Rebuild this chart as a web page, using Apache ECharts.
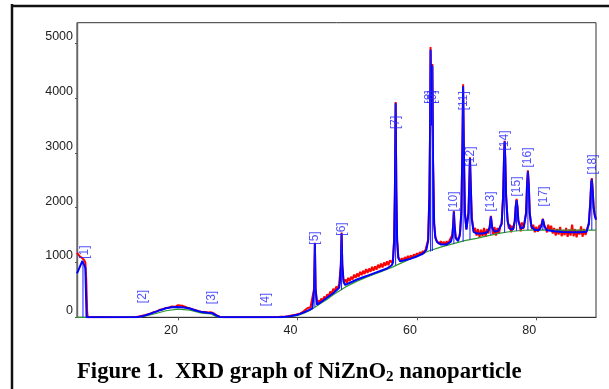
<!DOCTYPE html>
<html><head><meta charset="utf-8">
<script src="https://cdn.jsdelivr.net/npm/echarts@6/dist/echarts.min.js"></script>
<style>html,body{margin:0;padding:0;background:#fff}#c{width:609px;height:389px}</style>
</head><body><div id="c"></div>
<script>
// ---- data (2theta in degrees, intensity in counts) ----
const xTicks = [20, 40, 60, 80];
const yTicks = [0, 1000, 2000, 3000, 4000, 5000];

// measured pattern (red)
const measured = [
[3.1,1180],[3.3,1150],[3.5,1120],[3.7,1100],[3.9,1085],[4.1,1065],[4.3,1045],[4.5,1000],[4.65,700],[4.8,100],[4.9,0],
[6,4],[9,3],[12.5,5],[13,6],[13.5,15],[14,28],[14.5,38],[15,58],[15.5,72],[16,98],[16.5,108],[17,138],[17.5,148],
[18,172],[18.5,178],[19,198],[19.3,212],[19.6,192],[20,222],[20.3,196],[20.7,210],[21,188],[21.5,178],[22,162],
[22.5,142],[23,128],[23.5,112],[24,98],[24.5,96],[25,88],[25.5,92],[26,70],[26.5,35],[27,10],[27.5,3],[30,2],[35,3],[37,8],
[38,15],[38.5,20],[39,35],[39.5,40],[40,55],[40.5,70],[41,105],[41.3,95],[41.6,160],[41.9,140],[42.2,185],[42.5,170],
[42.8,520],[42.93,1360],[43.05,520],[43.3,260],[43.5,310],[43.75,270],[44,340],[44.25,300],[44.5,380],[44.75,340],
[45,420],[45.25,380],[45.5,470],[45.75,430],[46,520],[46.25,470],[46.5,560],[46.75,520],[47,610],[47.15,640],
[47.28,960],[47.4,1545],[47.52,960],[47.7,690],[47.9,640],[48.1,690],[48.3,630],[48.5,720],[48.75,660],[49,740],
[49.25,690],[49.5,780],[49.75,720],[50,800],[50.25,740],[50.5,830],[50.75,770],[51,850],[51.25,790],[51.5,880],
[51.75,810],[52,890],[52.25,830],[52.5,920],[52.75,850],[53,930],[53.25,870],[53.5,960],[53.75,900],[54,980],
[54.25,910],[54.5,1000],[54.75,940],[55,1020],[55.25,950],[55.5,1040],[55.8,1000],[56,1050],[56.2,1420],[56.33,2320],
[56.45,3930],[56.57,2320],[56.7,1420],[56.9,1100],[57.1,1060],[57.3,1020],[57.5,1080],[57.75,1030],[58,1100],
[58.25,1050],[58.5,1120],[58.75,1060],[59,1130],[59.25,1080],[59.5,1150],[59.75,1100],[60,1170],[60.25,1120],
[60.5,1190],[60.75,1150],[61,1210],[61.25,1170],[61.5,1250],[61.7,1280],[61.9,1420],[62.1,2220],[62.22,3420],
[62.3,4930],[62.42,3620],[62.5,3520],[62.6,4620],[62.72,2820],[62.9,1720],[63.1,1470],[63.3,1400],[63.5,1390],
[63.75,1340],[64,1390],[64.25,1330],[64.5,1380],[64.75,1320],[65,1390],[65.25,1340],[65.5,1410],[65.75,1390],
[65.95,1500],[66.1,1710],[66.2,1940],[66.3,1710],[66.5,1470],[66.7,1420],[66.9,1400],[67.1,1460],[67.25,1560],
[67.45,1920],[67.62,3020],[67.75,4250],[67.88,3020],[68.05,1920],[68.3,1610],[68.45,1580],[68.65,1920],[68.8,2520],
[68.9,2920],[69,2520],[69.2,1820],[69.5,1580],[69.75,1630],[70,1490],[70.25,1610],[70.5,1460],[70.75,1600],
[71,1480],[71.25,1630],[71.5,1470],[71.75,1610],[72,1530],[72.2,1660],[72.4,1850],[72.6,1650],[72.8,1510],
[73,1650],[73.25,1490],[73.5,1630],[73.75,1530],[74,1670],[74.2,1720],[74.45,2220],[74.6,2920],[74.7,3220],
[74.8,2920],[74.95,2220],[75.2,1780],[75.4,1620],[75.6,1690],[75.8,1550],[76,1670],[76.2,1620],[76.4,1770],
[76.55,2020],[76.7,2160],[76.85,2020],[77,1770],[77.2,1710],[77.4,1570],[77.6,1730],[77.8,1610],[78,1710],
[78.3,1920],[78.45,2420],[78.6,2680],[78.75,2420],[78.9,1920],[79.1,1710],[79.3,1610],[79.5,1690],[79.75,1550],
[80,1650],[80.25,1560],[80.5,1670],[80.85,1680],[81.1,1800],[81.35,1680],[81.6,1650],[81.8,1550],[82,1690],
[82.25,1590],[82.5,1670],[82.75,1530],[83,1630],[83.25,1490],[83.5,1610],[83.75,1510],[84,1650],[84.25,1480],
[84.5,1590],[84.75,1500],[85,1630],[85.25,1470],[85.5,1600],[85.75,1490],[86,1690],[86.25,1480],[86.5,1610],
[86.75,1460],[87,1590],[87.25,1510],[87.5,1660],[87.75,1470],[88,1610],[88.25,1500],[88.5,1600],[88.8,1720],
[89.05,2120],[89.2,2470],[89.3,2540],[89.45,2320],[89.6,2020],[89.8,1870],[90,1800]
];

// fitted profile (blue)
const fitted = [
[3.1,800],[3.5,900],[4.0,1030],[4.3,1000],[4.5,900],[4.7,0],[13,0],[14,20],[15,50],[16,90],[17,130],[18,165],
[19,185],[20,190],[21,180],[22,160],[23,125],[24,95],[25,85],[25.7,80],[26.3,40],[27,5],[28,0],[37,0],
[38,10],[39,25],[40,45],[41,85],[42,135],[42.5,165],[42.6,190],[42.8,500],[42.93,1350],[43.05,500],[43.3,230],
[44,280],[45,360],[46,440],[47,540],[47.1,620],[47.28,950],[47.4,1530],[47.52,950],[47.75,640],[48,590],
[49,640],[50,690],[51,730],[52,770],[53,810],[54,850],[55,890],[55.8,950],[56,1000],[56.2,1400],[56.33,2300],
[56.45,3905],[56.57,2300],[56.7,1400],[56.9,1080],[57.2,1020],[58,1040],[59,1070],[60,1110],[61,1160],[61.6,1230],
[61.9,1400],[62.1,2200],[62.22,3400],[62.3,4880],[62.42,3600],[62.5,3500],[62.6,4590],[62.72,2800],[62.9,1700],
[63.1,1450],[63.4,1370],[64,1330],[65,1330],[65.7,1380],[65.95,1480],[66.1,1700],[66.2,1927],[66.3,1700],
[66.5,1450],[66.9,1390],[67.2,1500],[67.45,1900],[67.62,3000],[67.75,4210],[67.88,3000],[68.05,1900],[68.3,1600],
[68.45,1570],[68.65,1900],[68.8,2500],[68.9,2900],[69,2500],[69.2,1800],[69.5,1560],[70,1530],[71,1530],
[71.8,1550],[72.2,1640],[72.4,1836],[72.6,1640],[73,1565],[73.6,1575],[74.2,1700],[74.45,2200],[74.6,2900],
[74.7,3205],[74.8,2900],[74.95,2200],[75.2,1750],[75.6,1610],[76.1,1600],[76.4,1750],[76.55,2000],[76.7,2140],
[76.85,2000],[77,1750],[77.4,1620],[77.9,1640],[78.3,1900],[78.45,2400],[78.6,2657],[78.75,2400],[78.9,1900],
[79.2,1650],[79.8,1595],[80.5,1595],[80.85,1660],[81.1,1788],[81.35,1660],[81.8,1590],[83,1570],[84.4,1555],
[86,1550],[87.5,1550],[88.4,1560],[88.8,1700],[89.05,2100],[89.2,2450],[89.3,2518],[89.45,2300],[89.6,2000],
[89.8,1850],[90,1780]
];

// background (green)
const background = [
[3.1,0],[13,0],[14,10],[16,60],[18,120],[20,150],[22,130],[24,75],[25.5,60],[26.5,10],[27.5,0],[37,0],
[38,5],[39,15],[40,35],[41,70],[42,120],[43,190],[44,260],[45,330],[46,410],[47,480],[48,550],[50,660],
[52,750],[54,830],[56,920],[58,1020],[60,1120],[62,1210],[64,1280],[66,1340],[68,1400],[70,1440],[72,1490],
[74,1535],[76,1570],[78,1588],[80,1595],[84,1590],[90,1592]
];

// peaks: label, position, base, top, label-centre height
const peakNames = ['[1]','[2]','[3]','[4]','[5]','[6]','[7]','[8]','[9]','[10]','[11]','[12]','[13]','[14]','[15]','[16]','[17]','[18]'];
const peakPos   = [4.1, 14.1, 25.7, 34.7, 42.93, 47.4, 56.45, 62.3, 62.6, 66.2, 67.75, 68.9, 72.4, 74.7, 76.7, 78.6, 81.1, 89.3];
const peakBase  = [0, 0, 60, 0, 190, 500, 950, 1200, 1210, 1340, 1380, 1420, 1500, 1545, 1575, 1590, 1595, 1590];
const peakTop   = [1000, 0, 85, 0, 1350, 1530, 3905, 4880, 4590, 1927, 4210, 2900, 1836, 3205, 2140, 2657, 1788, 2518];
const labelX    = [4.45, 14.1, 25.7, 34.7, 42.93, 47.4, 56.45, 62.2, 62.7, 66.25, 67.85, 69.0, 72.4, 74.7, 76.75, 78.6, 81.2, 89.45];
const labelY    = [1190, 380, 361, 325, 1447, 1611, 3555, 4020, 4020, 2113, 3950, 2934, 2113, 3226, 2387, 2916, 2204, 2788];

const peakLines = peakPos.map((p, i) => [p, peakBase[i], peakTop[i]]).filter(d => d[2] > d[1]);
const peakLabels = peakNames.map((n, i) => ({ value: [labelX[i], labelY[i]], name: n }));

const chart = echarts.init(document.getElementById('c'), null, { renderer: 'canvas' });
const axisColor = '#555';
chart.setOption({
  animation: false,
  backgroundColor: '#fff',
  title: {
    left: 72, top: 354,
    text: '{a|Figure 1.  XRD graph of NiZnO}{s|2}{a| nanoparticle}',
    textStyle: {
      rich: {
        a: { fontFamily: 'Liberation Serif', fontWeight: 'bold', fontSize: 22.7, lineHeight: 26, color: '#000' },
        s: { fontFamily: 'Liberation Serif', fontWeight: 'bold', fontSize: 15, lineHeight: 14, color: '#000', verticalAlign: 'bottom' }
      }
    }
  },
  graphic: [
    { type: 'line', shape: { x1: 12, y1: 4, x2: 12, y2: 389 }, style: { stroke: '#111', lineWidth: 2.5 } },
    { type: 'line', shape: { x1: 11, y1: 6, x2: 609, y2: 6 }, style: { stroke: '#111', lineWidth: 2.5 } }
  ],
  grid: { left: 77, top: 22.7, right: 13, bottom: 71.7, show: true, borderColor: '#333', borderWidth: 1, backgroundColor: 'transparent' },
  xAxis: {
    type: 'value', min: 3.1, max: 90,
    axisLine: { show: true, lineStyle: { color: '#333', width: 1.2 } },
    axisTick: { show: true, length: 3, customValues: xTicks, lineStyle: { color: axisColor } },
    axisLabel: { customValues: xTicks, align: 'right', margin: 7, fontFamily: 'Liberation Sans', fontSize: 12.5, color: '#222',
                 formatter: v => String(v) },
    splitLine: { show: false }
  },
  yAxis: {
    type: 'value', min: 0, max: 5375,
    axisLine: { show: true, lineStyle: { color: '#666', width: 1.4 } },
    axisTick: { show: true, length: 2, customValues: yTicks, lineStyle: { color: axisColor } },
    axisLabel: { customValues: yTicks, verticalAlign: 'bottom', margin: 4, fontFamily: 'Liberation Sans', fontSize: 12.5, color: '#222',
                 formatter: v => String(v) },
    splitLine: { show: false }
  },
  series: [
    { type: 'line', data: measured, showSymbol: false, lineStyle: { color: '#ff0000', width: 2 }, z: 2, clip: true },
    { type: 'line', data: background, showSymbol: false, lineStyle: { color: '#2e9a2e', width: 1.2 }, z: 3, clip: true },
    { type: 'line', data: fitted, showSymbol: false, lineStyle: { color: '#0000ff', width: 2 }, z: 4, clip: true },
    {
      type: 'custom', z: 5, clip: true,
      data: peakLines,
      renderItem: function (params, api) {
        const a = api.coord([api.value(0), api.value(1)]);
        const b = api.coord([api.value(0), api.value(2)]);
        return { type: 'line', shape: { x1: a[0], y1: a[1], x2: b[0], y2: b[1] }, style: { stroke: '#1a1aff', lineWidth: 1 } };
      }
    },
    {
      type: 'scatter', z: 6, symbolSize: 0, data: peakLabels,
      label: { show: true, position: 'inside', rotate: 90, formatter: p => p.name,
               fontFamily: 'Liberation Sans', fontSize: 12, color: '#2424ff' }
    }
  ]
});
</script></body></html>
